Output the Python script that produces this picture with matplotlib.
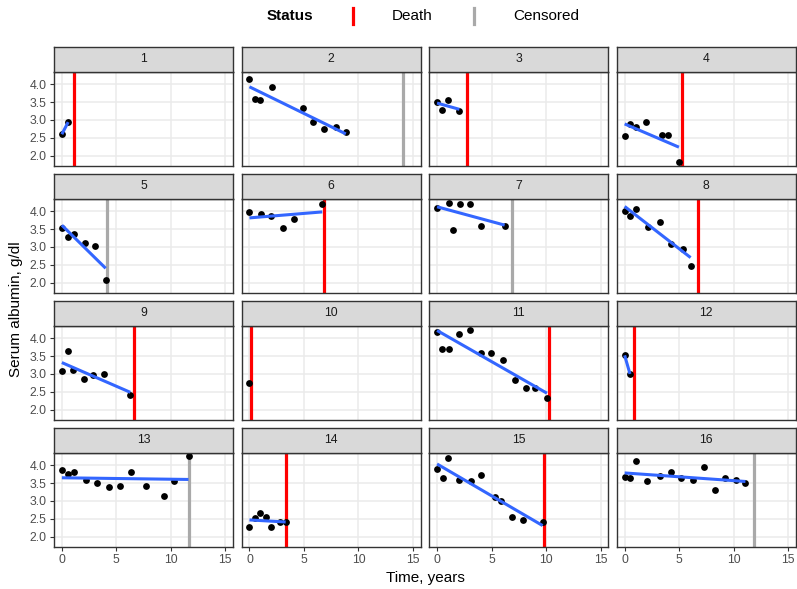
import numpy as np
import pandas as pd
import matplotlib
matplotlib.use("Agg")
import matplotlib.pyplot as plt
from matplotlib.lines import Line2D
from matplotlib.ticker import MultipleLocator

plt.rcParams['font.family'] = ['Liberation Sans', 'DejaVu Sans']

# long-format follow-up measurements
subject = ([1] * 2 + [2] * 9 + [3] * 4 + [4] * 7 + [5] * 6 + [6] * 6 + [7] * 7
           + [8] * 8 + [9] * 7 + [10] * 1 + [11] * 12 + [12] * 2 + [13] * 12
           + [14] * 7 + [15] * 11 + [16] * 13)
years = [0, 0.58,
         0, 0.52, 1.0, 2.1, 4.88, 5.85, 6.86, 7.9, 8.84,
         0, 0.46, 1.0, 2.05,
         0, 0.49, 1.04, 1.98, 3.42, 3.97, 4.98,
         0, 0.58, 1.13, 2.16, 3.05, 4.02,
         0, 1.04, 2.01, 3.05, 4.05, 6.68,
         0, 1.07, 1.50, 2.08, 3.05, 4.06, 6.2,
         0, 0.49, 1.07, 2.14, 3.27, 4.24, 5.34, 6.05,
         0, 0.52, 1.0, 2.01, 2.87, 3.84, 6.28,
         0,
         0, 0.49, 1.07, 2.05, 3.02, 4.03, 4.95, 6.02, 7.14, 8.15, 8.95, 10.08,
         0, 0.49,
         0, 0.52, 1.1, 2.26, 3.20, 4.33, 5.3, 6.31, 7.68, 9.33, 10.3, 11.62,
         0, 0.55, 1.0, 1.49, 1.95, 2.84, 3.32,
         0, 0.52, 1.0, 2.02, 3.08, 4.06, 5.34, 5.86, 6.84, 7.88, 9.68,
         0, 0.52, 1.01, 2.05, 3.24, 4.27, 5.19, 6.29, 7.27, 8.31, 9.25, 10.17, 11.08]
albumin = [2.60, 2.94,
           4.14, 3.60, 3.55, 3.93, 3.33, 2.93, 2.74, 2.80, 2.67,
           3.49, 3.29, 3.57, 3.24,
           2.54, 2.88, 2.79, 2.93, 2.59, 2.59, 1.83,
           3.54, 3.28, 3.35, 3.10, 3.02, 2.08,
           3.99, 3.92, 3.87, 3.52, 3.79, 4.21,
           4.10, 4.24, 3.47, 4.19, 4.19, 3.60, 3.59,
           4.01, 3.87, 4.06, 3.56, 3.70, 3.09, 2.95, 2.48,
           3.08, 3.63, 3.10, 2.87, 2.96, 3.00, 2.40,
           2.74,
           4.16, 3.71, 3.71, 4.11, 4.23, 3.58, 3.60, 3.38, 2.83, 2.62, 2.61, 2.32,
           3.52, 3.00,
           3.86, 3.76, 3.82, 3.60, 3.50, 3.39, 3.41, 3.80, 3.43, 3.14, 3.56, 4.26,
           2.28, 2.52, 2.66, 2.56, 2.27, 2.40, 2.40,
           3.88, 3.64, 4.19, 3.60, 3.57, 3.72, 3.10, 3.01, 2.54, 2.48, 2.41,
           3.67, 3.64, 4.13, 3.56, 3.69, 3.80, 3.65, 3.58, 3.94, 3.30, 3.64, 3.60, 3.51]

# one row per subject: end of follow-up and status
subject_ids = list(range(1, 17))
event_years = [1.13, 14.08, 2.78, 5.25, 4.12, 6.80, 6.84, 6.72,
               6.59, 0.12, 10.29, 0.82, 11.62, 3.32, 9.77, 11.85]
status = ['Death', 'Censored', 'Death', 'Death', 'Censored', 'Death', 'Censored', 'Death',
          'Death', 'Death', 'Death', 'Death', 'Censored', 'Death', 'Death', 'Censored']

status_colors = {'Death': '#FF0000', 'Censored': '#A9A9A9'}

long_df = pd.DataFrame({'id': subject, 'years': years, 'albumin': albumin})
surv_df = pd.DataFrame({'id': subject_ids, 'years': event_years, 'status': status})


def main():
    W, H = 797, 589
    fig = plt.figure(figsize=(W / 100, H / 100), dpi=100)

    left0, col_pitch, pw = 54, 187.6, 179
    top0, row_pitch, ph, sh = 71.7, 127, 94, 24.5

    for k, sid in enumerate(subject_ids):
        r, c = divmod(k, 4)
        x0 = left0 + c * col_pitch
        ytop = top0 + r * row_pitch
        ax = fig.add_axes([x0 / W, 1 - (ytop + ph) / H, pw / W, ph / H])
        sax = fig.add_axes([x0 / W, 1 - ytop / H, pw / W, sh / H])

        d = long_df[long_df['id'] == sid]
        s = surv_df[surv_df['id'] == sid].iloc[0]

        ax.axvline(s['years'], color=status_colors[s['status']], lw=2.3, zorder=2)
        ax.scatter(d['years'], d['albumin'], s=24, color='black', zorder=3, linewidths=0)
        if len(d) > 1:
            slope, icpt = np.polyfit(d['years'], d['albumin'], 1)
            xs = np.array([d['years'].min(), d['years'].max()])
            ax.plot(xs, icpt + slope * xs, color='#3366FF', lw=2.2, zorder=4,
                    solid_capstyle='butt')

        ax.set_xlim(-0.72, 15.7)
        ax.set_ylim(1.72, 4.35)
        ax.xaxis.set_major_locator(MultipleLocator(5))
        ax.yaxis.set_major_locator(MultipleLocator(0.5))
        ax.grid(which='major', color='#EBEBEB', lw=1.1)
        ax.set_axisbelow(True)
        for sp in ax.spines.values():
            sp.set_color('#333333')
            sp.set_linewidth(1.0)
        ax.tick_params(which='major', length=3.2, color='#333333', width=0.8,
                       labelsize=8.8, labelcolor='#4D4D4D', pad=2)
        if c != 0:
            ax.tick_params(axis='y', left=False, labelleft=False)
        else:
            ax.set_yticklabels(['%.1f' % v for v in ax.get_yticks()])
        if r != 3:
            ax.tick_params(axis='x', bottom=False, labelbottom=False)

        sax.set_facecolor('#D9D9D9')
        sax.set_xticks([])
        sax.set_yticks([])
        for sp in sax.spines.values():
            sp.set_color('#333333')
            sp.set_linewidth(1.0)
        sax.text(0.5, 0.5, str(sid), ha='center', va='center', fontsize=8.8,
                 color='#1A1A1A', transform=sax.transAxes)

    fig.text(425 / W, 1 - 578 / H, 'Time, years', ha='center', va='center', fontsize=11)
    fig.text(16 / W, 1 - 309 / H, 'Serum albumin, g/dl', ha='center', va='center',
             rotation=90, fontsize=11)

    # legend on top
    ly = 1 - 16 / H
    fig.text(290 / W, ly, 'Status', ha='center', va='center', fontsize=11, fontweight='bold')
    for xk, xt, lab in [(353, 392, 'Death'), (474, 513, 'Censored')]:
        fig.add_artist(Line2D([xk / W, xk / W], [1 - 8 / H, 1 - 24 / H],
                              color=status_colors[lab], lw=2.3, transform=fig.transFigure))
        fig.text(xt / W, ly, lab, ha='left', va='center', fontsize=11)

    fig.savefig('out.png', dpi=100)


if __name__ == "__main__":
    main()
